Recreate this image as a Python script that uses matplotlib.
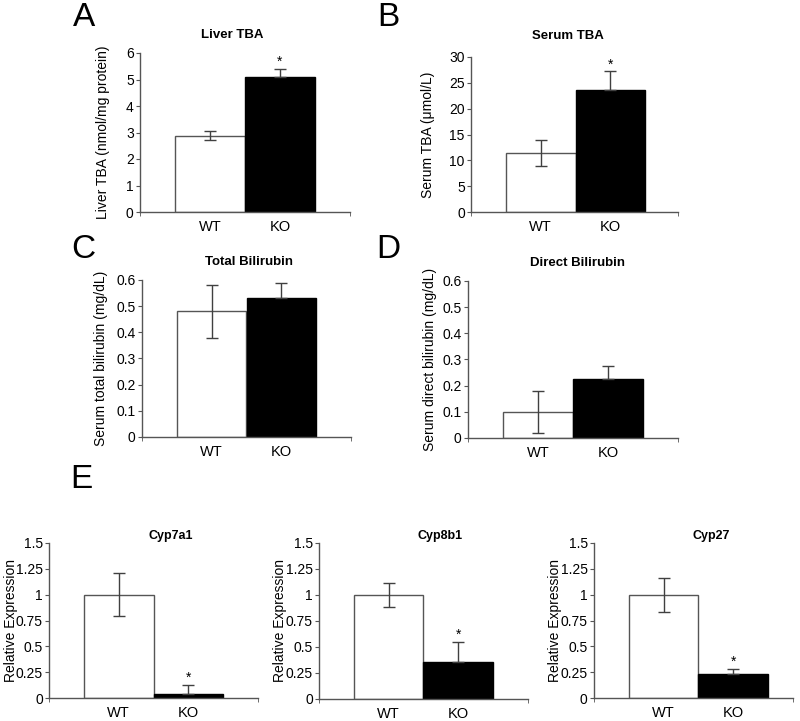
import numpy as np
import matplotlib
matplotlib.use("Agg")
import matplotlib.pyplot as plt
from matplotlib.ticker import FuncFormatter

plt.rcParams['font.family'] = ['Liberation Sans', 'DejaVu Sans']

groups = ["WT", "KO"]

# panel data: means, error bars (WT symmetric, KO upper only), significance
liver_tba = [2.88, 5.10]
liver_tba_err = [0.18, 0.30]
serum_tba = [11.5, 23.6]
serum_tba_err = [2.5, 3.6]
total_bili = [0.48, 0.53]
total_bili_err = [0.10, 0.06]
direct_bili = [0.10, 0.225]
direct_bili_err = [0.08, 0.052]
cyp7a1 = [1.0, 0.035]
cyp7a1_err = [0.21, 0.09]
cyp8b1 = [1.0, 0.36]
cyp8b1_err = [0.12, 0.19]
cyp27 = [1.0, 0.235]
cyp27_err = [0.165, 0.05]

W, H = 800, 721
fig = plt.figure(figsize=(8, 7.21), dpi=100)

EDGE = '#555555'
FS = 10


def px_axes(left, right, top, bottom):
    return fig.add_axes([left / W, 1 - bottom / H, (right - left) / W, (bottom - top) / H])


def bar_panel(ax, vals, errs, title, ylabel, ymax, ystep, star, title_x, title_y, label_x,
              xmax=2.0, title_fs=9.5):
    x = np.arange(len(groups))
    ax.bar(x, vals, width=1.0, color=['white', 'black'], edgecolor=[EDGE, 'black'], linewidth=1.0, zorder=2)
    lower = [errs[0], 0]
    upper = [errs[0], errs[1]]
    ax.errorbar(x, vals, yerr=[lower, upper], fmt='none', ecolor='#404040', elinewidth=1.0,
                capsize=4.5, capthick=1.0, zorder=3)
    if star:
        ax.text(1, vals[1] + errs[1], '*', ha='center', va='bottom', fontsize=10)
    ax.set_xlim(-1, xmax)
    ax.set_ylim(0, ymax)
    ax.set_yticks(np.arange(0, ymax + ystep / 2, ystep))
    ax.yaxis.set_major_formatter(FuncFormatter(lambda v, p: f'{v:g}'))
    ax.set_xticks(x)
    ax.set_xticklabels(groups)
    ax.set_xticks([-1, xmax], minor=True)
    ax.tick_params(axis='x', which='major', length=0, pad=6, labelsize=FS + 0.5)
    ax.tick_params(axis='x', which='minor', length=3, direction='out', color=EDGE)
    ax.tick_params(axis='y', length=3, direction='out', color=EDGE, labelsize=FS, pad=1.5)
    for s in ['top', 'right']:
        ax.spines[s].set_visible(False)
    for s in ['left', 'bottom']:
        ax.spines[s].set_color(EDGE)
        ax.spines[s].set_linewidth(1.0)
    ax.set_ylabel(ylabel, fontsize=FS)
    ax.yaxis.set_label_coords(label_x, 0.5)
    ax.text(title_x, title_y, title, transform=ax.transAxes, ha='center', va='center',
            fontsize=title_fs, fontweight='bold')


axA = px_axes(140, 350, 53, 212)
bar_panel(axA, liver_tba, liver_tba_err, 'Liver TBA', 'Liver TBA (nmol/mg protein)', 6, 1, True,
          0.44, 1.113, -0.143)
axB = px_axes(471, 678, 57, 212)
bar_panel(axB, serum_tba, serum_tba_err, 'Serum TBA', 'Serum TBA (\u03bcmol/L)', 30, 5, True,
          0.47, 1.135, -0.174, xmax=1.97)
axC = px_axes(142, 351, 280, 437)
bar_panel(axC, total_bili, total_bili_err, 'Total Bilirubin', 'Serum total bilirubin (mg/dL)', 0.6, 0.1, False,
          0.51, 1.115, -0.163)
axD = px_axes(468, 678, 281, 438)
bar_panel(axD, direct_bili, direct_bili_err, 'Direct Bilirubin', 'Serum direct bilirubin (mg/dL)', 0.6, 0.1, False,
          0.52, 1.115, -0.148)
axE1 = px_axes(49, 258, 543, 698)
bar_panel(axE1, cyp7a1, cyp7a1_err, 'Cyp7a1', 'Relative Expression', 1.5, 0.25, True,
          0.584, 1.045, -0.148, title_fs=9)
axE2 = px_axes(319, 528, 543, 699)
bar_panel(axE2, cyp8b1, cyp8b1_err, 'Cyp8b1', 'Relative Expression', 1.5, 0.25, True,
          0.58, 1.045, -0.153, title_fs=9)
axE3 = px_axes(594, 793, 543, 698)
bar_panel(axE3, cyp27, cyp27_err, 'Cyp27', 'Relative Expression', 1.5, 0.25, True,
          0.59, 1.045, -0.161, xmax=1.86, title_fs=9)

# panel letters
for letter, lx, ly in [('A', 84, 17), ('B', 388, 17), ('C', 83, 249), ('D', 388, 249), ('E', 81, 479)]:
    fig.text(lx / W, 1 - ly / H, letter, fontsize=24, ha='center', va='center')

fig.savefig('out.png', dpi=100)
